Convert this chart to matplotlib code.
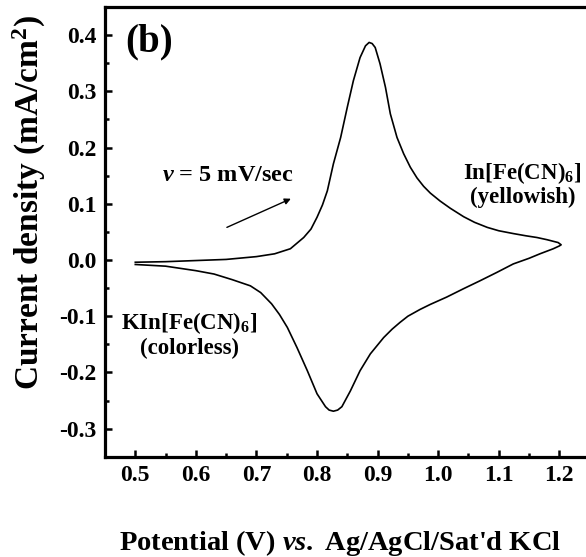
import matplotlib
matplotlib.use("Agg")
import matplotlib.pyplot as plt
from matplotlib.ticker import MultipleLocator

plt.rcParams['font.family'] = ['Liberation Serif', 'DejaVu Serif']
plt.rcParams['font.weight'] = 'bold'
plt.rcParams['mathtext.fontset'] = 'custom'
plt.rcParams['mathtext.rm'] = 'Liberation Serif:bold'
plt.rcParams['mathtext.bf'] = 'Liberation Serif:bold'
plt.rcParams['mathtext.it'] = 'Liberation Serif:italic:bold'

# anodic sweep (0.5 -> 1.2 V)
anodic_v = [0.500, 0.550, 0.600, 0.650, 0.700, 0.730, 0.756, 0.778, 0.790, 0.800,
            0.809, 0.817, 0.827, 0.839, 0.850, 0.860, 0.871, 0.880, 0.886, 0.891,
            0.896, 0.904, 0.913, 0.921, 0.932, 0.943, 0.954, 0.965, 0.976, 0.987,
            1.003, 1.020, 1.042, 1.060, 1.081, 1.100, 1.124, 1.145, 1.163, 1.180,
            1.198, 1.203]
anodic_j = [-0.004, -0.003, -0.001, 0.001, 0.006, 0.011, 0.020, 0.040, 0.055, 0.076,
            0.098, 0.123, 0.171, 0.218, 0.272, 0.319, 0.360, 0.381, 0.387, 0.385,
            0.378, 0.349, 0.307, 0.260, 0.218, 0.189, 0.165, 0.146, 0.131, 0.119,
            0.105, 0.092, 0.077, 0.067, 0.058, 0.052, 0.047, 0.043, 0.040, 0.036,
            0.031, 0.027]

# cathodic sweep (1.2 -> 0.5 V)
cathodic_v = [1.200, 1.190, 1.168, 1.150, 1.124, 1.097, 1.069, 1.042, 1.014, 0.987,
              0.970, 0.950, 0.937, 0.924, 0.910, 0.888, 0.871, 0.855, 0.841, 0.834,
              0.827, 0.820, 0.814, 0.800, 0.784, 0.767, 0.751, 0.738, 0.725, 0.707,
              0.690, 0.660, 0.630, 0.600, 0.550, 0.500]
cathodic_j = [0.025, 0.020, 0.011, 0.003, -0.007, -0.022, -0.037, -0.051, -0.066, -0.079,
              -0.088, -0.100, -0.111, -0.123, -0.138, -0.167, -0.197, -0.233, -0.261, -0.267,
              -0.269, -0.267, -0.261, -0.238, -0.197, -0.156, -0.120, -0.097, -0.078, -0.058,
              -0.046, -0.035, -0.025, -0.019, -0.011, -0.008]

fig = plt.figure(figsize=(5.86, 5.57), dpi=100)
ax = fig.add_axes([0.1792, 0.180, 0.827, 0.8074])

ax.plot(anodic_v + cathodic_v, anodic_j + cathodic_j, color='black', lw=1.2,
        solid_joinstyle='round')

ax.set_xlim(0.45, 1.25)
ax.set_ylim(-0.35, 0.45)
ax.xaxis.set_minor_locator(MultipleLocator(0.05))
ax.yaxis.set_minor_locator(MultipleLocator(0.05))
ax.set_xticks([0.5, 0.6, 0.7, 0.8, 0.9, 1.0, 1.1, 1.2])
ax.set_xticklabels(['0.5', '0.6', '0.7', '0.8', '0.9', '1.0', '1.1', '1.2'])
ax.set_yticks([-0.3, -0.2, -0.1, 0.0, 0.1, 0.2, 0.3, 0.4])
ax.set_yticklabels(['-0.3', '-0.2', '-0.1', '0.0', '0.1', '0.2', '0.3', '0.4'])

for s in ax.spines.values():
    s.set_linewidth(2.3)
ax.tick_params(which='major', direction='in', length=5, width=1.8, labelsize=17, pad=6)
ax.tick_params(which='minor', direction='in', length=3, width=1.8)

fig.text(0.051, 0.637, 'Current density (mA/cm$^2$)', rotation=90,
         ha='center', va='center', fontsize=24, fontweight='bold')
fig.text(0.58, 0.0126, "Potential (V) $vs.$ Ag/AgCl/Sat'd KCl",
         ha='center', va='baseline', fontsize=20.5, fontweight='bold')

ax.text(0.522, 0.388, '(b)', ha='center', va='center', fontsize=28, fontweight='bold')
ax.text(0.652, 0.150, '$v$ = 5 mV/sec', ha='center', va='center', fontsize=17.5)
ax.annotate('', xy=(0.761, 0.111), xytext=(0.647, 0.056),
            arrowprops=dict(arrowstyle='-|>', color='black', lw=1.0,
                            mutation_scale=9))
ax.text(1.139, 0.135, 'In[Fe(CN)$_6$]\n(yellowish)', ha='center', va='center',
        fontsize=16.5, linespacing=1.1)
ax.text(0.589, -0.133, 'KIn[Fe(CN)$_6$]\n(colorless)', ha='center', va='center',
        fontsize=16.5, linespacing=1.15)

fig.savefig('out.png', dpi=100)
